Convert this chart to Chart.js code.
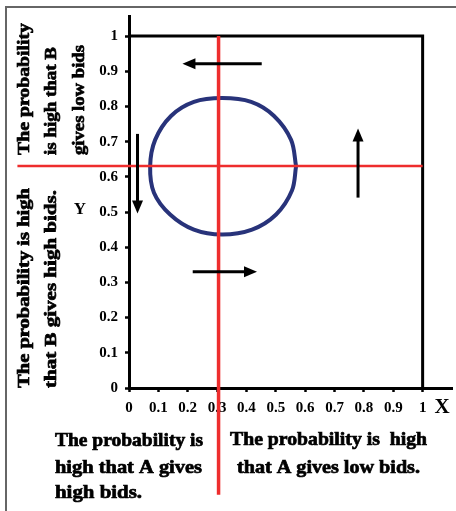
<!DOCTYPE html>
<html>
<head>
<meta charset="utf-8">
<script src="https://cdn.jsdelivr.net/npm/chart.js@4/dist/chart.umd.min.js"></script>
<style>
  body { margin: 0; background: #fff; }
  #wrap { position: relative; width: 456px; height: 511px; }
  #frame { position: absolute; left: 5px; top: 6px; right: 0; bottom: 0;
           border-left: 2px solid #666; border-top: 2px solid #666; }
  canvas { position: absolute; left: 0; top: 0; }
</style>
</head>
<body>
<div id="wrap">
  <div id="frame"></div>
  <canvas id="myChart" width="456" height="511"></canvas>
</div>
<script>
// tick values / labels
const xTicks = [0, 0.1, 0.2, 0.3, 0.4, 0.5, 0.6, 0.7, 0.8, 0.9, 1];
const xTickLabels = ["0", "0.1", "0.2", "0.3", "0.4", "0.5", "0.6", "0.7", "0.8", "0.9", "1"];
const yTicks = [0, 0.1, 0.2, 0.3, 0.4, 0.5, 0.6, 0.7, 0.8, 0.9, 1];
const yTickLabels = ["0", "0.1", "0.2", "0.3", "0.4", "0.5", "0.6", "0.7", "0.8", "0.9", "1"];

const circleX = [0.569, 0.552, 0.494, 0.416, 0.317, 0.221, 0.143, 0.089, 0.072,
                 0.085, 0.140, 0.221, 0.317, 0.419, 0.501, 0.555, 0.569];
const circleY = [0.630, 0.705, 0.773, 0.813, 0.824, 0.813, 0.773, 0.705, 0.630,
                 0.555, 0.493, 0.450, 0.436, 0.450, 0.493, 0.561, 0.630];

// red cross lines
const redHX = [-0.38, 1];
const redHY = [0.631, 0.631];
const redVX = [0.305, 0.305];
const redVY = [1, -0.303];

// box top / right edge
const frameX = [0, 1, 1];
const frameY = [1, 1, 0];

// arrows: start -> end (head at end)
const arrowX1 = [0.452, 0.780, 0.217, 0.029];
const arrowY1 = [0.921, 0.541, 0.330, 0.722];
const arrowX2 = [0.182, 0.780, 0.436, 0.029];
const arrowY2 = [0.921, 0.737, 0.330, 0.496];

const bold = '"Liberation Serif", "Times New Roman", serif';

function pts(xs, ys) {
  return xs.map((x, i) => ({ x: x, y: ys[i] }));
}

// text fitted to a measured width (keeps it real text, just stretched)
function fitText(ctx, text, x, y, width) {
  const w = ctx.measureText(text).width;
  ctx.save();
  ctx.translate(x, y);
  ctx.scale(width / w, 1);
  ctx.strokeText(text, 0, 0);
  ctx.fillText(text, 0, 0);
  ctx.restore();
}

function rotText(ctx, text, cx, bottomY, length) {
  ctx.save();
  ctx.translate(cx, bottomY);
  ctx.rotate(-Math.PI / 2);
  fitText(ctx, text, 0, 0, length);
  ctx.restore();
}

const extras = {
  id: 'extras',
  afterDatasetsDraw(chart) {
    const ctx = chart.ctx;
    const xs = chart.scales.x, ys = chart.scales.y;
    // arrow lines + heads
    ctx.save();
    ctx.strokeStyle = '#000';
    ctx.fillStyle = '#000';
    ctx.lineWidth = 3;
    for (let i = 0; i < arrowX1.length; i++) {
      const x1 = xs.getPixelForValue(arrowX1[i]), y1 = ys.getPixelForValue(arrowY1[i]);
      const x2 = xs.getPixelForValue(arrowX2[i]), y2 = ys.getPixelForValue(arrowY2[i]);
      const ang = Math.atan2(y2 - y1, x2 - x1);
      const hl = 13, hw = 5.5;
      ctx.beginPath();
      ctx.moveTo(x1, y1);
      ctx.lineTo(x2 - Math.cos(ang) * hl * 0.8, y2 - Math.sin(ang) * hl * 0.8);
      ctx.stroke();
      ctx.beginPath();
      ctx.moveTo(x2, y2);
      ctx.lineTo(x2 - Math.cos(ang) * hl - Math.sin(ang) * hw, y2 - Math.sin(ang) * hl + Math.cos(ang) * hw);
      ctx.lineTo(x2 - Math.cos(ang) * hl + Math.sin(ang) * hw, y2 - Math.sin(ang) * hl - Math.cos(ang) * hw);
      ctx.closePath();
      ctx.fill();
    }
    ctx.restore();

    ctx.save();
    ctx.fillStyle = '#000';
    ctx.strokeStyle = '#000';
    ctx.lineWidth = 0.7;
    ctx.textBaseline = 'middle';
    ctx.textAlign = 'left';
    ctx.font = 'bold 19px ' + bold;
    // bottom left block
    fitText(ctx, 'The probability is', 55, 441, 148);
    fitText(ctx, 'high that A gives', 55, 468, 147);
    fitText(ctx, 'high bids.', 55, 493, 87);
    // bottom right block
    fitText(ctx, 'The probability is  high', 230, 440, 197);
    fitText(ctx, 'that A gives low bids.', 237, 468, 183);
    // rotated blocks on the left
    ctx.font = 'bold 17px ' + bold;
    rotText(ctx, 'The probability', 25, 155, 132);
    rotText(ctx, 'is high that B', 52, 155, 108);
    rotText(ctx, 'gives low bids', 80, 155, 110);
    rotText(ctx, 'The probability is high', 25, 388, 200);
    rotText(ctx, 'that B gives high bids.', 52, 388, 198);
    // axis letters
    ctx.textAlign = 'center';
    ctx.font = 'bold 17px ' + bold;
    ctx.fillText('Y', 80, 210);
    ctx.font = 'bold 21px ' + bold;
    ctx.fillText('X', 442, 408);
    ctx.restore();
  }
};

new Chart("myChart", {
  type: 'scatter',
  data: {
    datasets: [
      { data: pts(redHX, redHY), showLine: true, borderColor: '#ee2d2d', borderWidth: 2.5,
        pointRadius: 0, clip: false, order: 0 },
      { data: pts(redVX, redVY), showLine: true, borderColor: '#ee2d2d', borderWidth: 3.5,
        pointRadius: 0, clip: false, order: 0 },
      { data: pts(circleX, circleY), showLine: true, borderColor: '#28337a', borderWidth: 4,
        pointRadius: 0, tension: 0.35, clip: false, order: 1 },
      { data: pts(frameX, frameY), showLine: true, borderColor: '#000', borderWidth: 3,
        pointRadius: 0, clip: false, order: 2 }
    ]
  },
  options: {
    responsive: false,
    animation: false,
    devicePixelRatio: 1,
    layout: { padding: { left: 0, top: 15, right: 4, bottom: 0 } },
    plugins: { legend: { display: false }, tooltip: { enabled: false } },
    scales: {
      x: {
        type: 'linear', min: 0, max: 1.1,
        afterBuildTicks: s => { s.ticks = xTicks.map(v => ({ value: v })); },
        afterFit: s => { s.height = 123; },
        border: { display: true, color: '#000', width: 3 },
        grid: { drawOnChartArea: false, drawTicks: true, tickLength: 4, tickColor: '#000', tickWidth: 2.5 },
        ticks: {
          autoSkip: false, maxRotation: 0, padding: 7, color: '#000',
          font: { family: bold, size: 15, weight: 'bold' },
          callback: (v, i) => xTickLabels[i]
        }
      },
      y: {
        type: 'linear', min: 0, max: 1.057,
        afterBuildTicks: s => { s.ticks = yTicks.map(v => ({ value: v })); },
        afterFit: s => { s.width = 129; },
        border: { display: true, color: '#000', width: 3 },
        grid: { drawOnChartArea: false, drawTicks: true, tickLength: 4, tickColor: '#000', tickWidth: 2.5 },
        ticks: {
          autoSkip: false, padding: 7, color: '#000',
          font: { family: bold, size: 15, weight: 'bold' },
          callback: (v, i) => yTickLabels[i]
        }
      }
    }
  },
  plugins: [extras]
});
</script>
</body>
</html>
